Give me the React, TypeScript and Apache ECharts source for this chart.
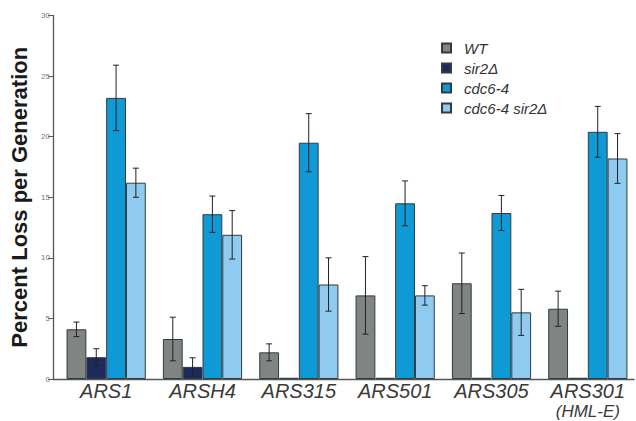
import React, { useEffect, useRef } from "react";
import * as echarts from "echarts";

const categories = ["ARS1", "ARSH4", "ARS315", "ARS501", "ARS305", "ARS301\n(HML-E)"];
const seriesNames = ["WT", "sir2Δ", "cdc6-4", "cdc6-4 sir2Δ"];
const wt = [4.1, 3.3, 2.2, 6.9, 7.9, 5.8];
const wtErr = [0.6, 1.8, 0.7, 3.2, 2.5, 1.45];
const sir2 = [1.8, 1.0, 0.1, 0.1, 0.1, 0.1];
const sir2Err = [0.7, 0.75, 0, 0, 0, 0];
const cdc = [23.2, 13.6, 19.5, 14.5, 13.7, 20.4];
const cdcErr = [2.7, 1.5, 2.4, 1.85, 1.45, 2.1];
const cdcSir2 = [16.2, 11.9, 7.8, 6.9, 5.5, 18.2];
const cdcSir2Err = [1.2, 2.0, 2.2, 0.8, 1.9, 2.05];
const yTicks = [0, 5, 10, 15, 20, 25, 30];

const colors = ["#808582", "#1d2a5c", "#0f9ad6", "#8ecbee"];
const BAR_W = 19.8;

export default function App() {
  const ref = useRef<HTMLDivElement>(null);
  useEffect(() => {
    if (!ref.current) return;
    const chart = echarts.init(ref.current, null, { renderer: "svg" });
    const values = [wt, sir2, cdc, cdcSir2];
    const errs = [wtErr, sir2Err, cdcErr, cdcSir2Err];
    const errData: any[] = [];
    values.forEach((vals, k) => {
      vals.forEach((v, i) => {
        if (errs[k][i] > 0) errData.push([i, v, errs[k][i], k]);
      });
    });
    const font = "'Liberation Sans', Arial, Helvetica, sans-serif";
    const option: any = {
      animation: false,
      textStyle: { fontFamily: font },
      grid: [
        { left: 58, width: 582, top: 15.5, bottom: 42 },
        { left: 53, right: 2, top: 15.5, bottom: 42 },
      ],
      legend: {
        data: seriesNames,
        orient: "vertical",
        left: 441,
        top: 40.5,
        padding: 0,
        itemWidth: 9,
        itemHeight: 9,
        itemGap: 5,
        icon: "rect",
        textStyle: {
          fontStyle: "italic",
          fontSize: 15,
          lineHeight: 15,
          color: "#333",
          padding: [0, 0, 0, 8],
          fontFamily: font,
        },
      },
      xAxis: [
        {
          type: "category",
          gridIndex: 0,
          data: categories,
          axisLine: { show: false },
          axisTick: { show: false },
          axisLabel: {
            margin: 1,
            interval: 0,
            formatter: (v: string) =>
              v
                .split("\n")
                .map((s, j) => (j === 0 ? `{a|${s}}` : `{b|${s}}`))
                .join("\n"),
            rich: {
              a: {
                fontStyle: "italic",
                fontSize: 20,
                lineHeight: 22,
                color: "#3a3a3a",
                fontFamily: font,
              },
              b: {
                fontStyle: "italic",
                fontSize: 17,
                lineHeight: 19,
                color: "#3a3a3a",
                fontFamily: font,
              },
            },
          },
        },
        {
          type: "value",
          gridIndex: 1,
          min: 0,
          max: 1,
          axisLine: { show: true, lineStyle: { color: "#555", width: 1.3 } },
          axisTick: { show: false },
          axisLabel: { show: false },
          splitLine: { show: false },
        },
      ],
      yAxis: [
        {
          type: "value",
          gridIndex: 0,
          min: 0,
          max: 30,
          interval: 5,
          show: false,
          splitLine: { show: false },
        },
        {
          type: "value",
          gridIndex: 1,
          min: yTicks[0],
          max: yTicks[yTicks.length - 1],
          interval: 5,
          name: "Percent Loss per Generation",
          nameLocation: "middle",
          nameGap: 18,
          nameTextStyle: { fontSize: 22, fontWeight: "bold", color: "#1a1a1a", fontFamily: font },
          axisLine: { show: true, lineStyle: { color: "#555", width: 1.3 } },
          axisTick: { show: true, length: 5, lineStyle: { color: "#555" } },
          axisLabel: { fontSize: 8, color: "#777", margin: 3 },
          splitLine: { show: false },
        },
      ],
      series: [
        ...values.map((vals, k) => ({
          type: "bar",
          name: seriesNames[k],
          xAxisIndex: 0,
          yAxisIndex: 0,
          data: vals,
          barWidth: BAR_W,
          barGap: "0%",
          itemStyle: { color: colors[k], borderColor: "#333a40", borderWidth: 1 },
        })),
        {
          type: "custom",
          name: "err",
          xAxisIndex: 0,
          yAxisIndex: 0,
          z: 10,
          data: errData,
          renderItem: (params: any, api: any) => {
            const i = api.value(0);
            const v = api.value(1);
            const e = api.value(2);
            const k = api.value(3);
            const base = api.coord([i, v]);
            const x = base[0] + (k - 1.5) * BAR_W;
            const top = api.coord([i, v + e])[1];
            const bot = api.coord([i, Math.max(0, v - e)])[1];
            const cap = 3;
            const st = { stroke: "#222", lineWidth: 1 };
            return {
              type: "group",
              children: [
                { type: "line", shape: { x1: x, y1: top, x2: x, y2: bot }, style: st },
                { type: "line", shape: { x1: x - cap, y1: top, x2: x + cap, y2: top }, style: st },
                { type: "line", shape: { x1: x - cap, y1: bot, x2: x + cap, y2: bot }, style: st },
              ],
            };
          },
        },
      ],
    };
    chart.setOption(option);
    return () => chart.dispose();
  }, []);
  return (
    <div
      ref={ref}
      style={{ position: "absolute", left: 0, top: 0, width: 636, height: 421 }}
    />
  );
}
